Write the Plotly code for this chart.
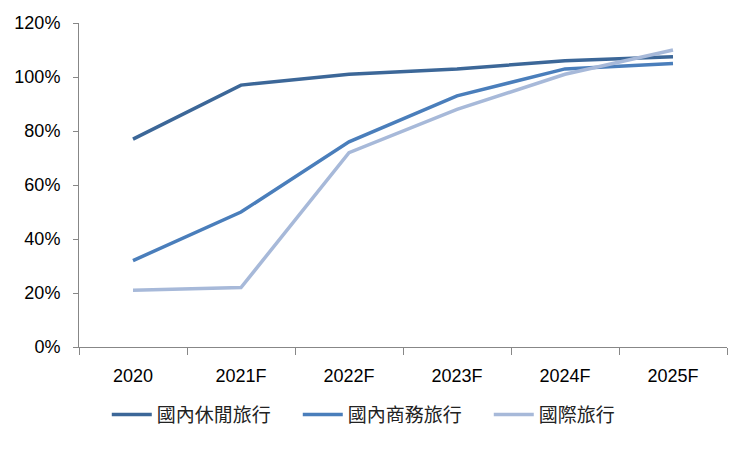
import plotly.graph_objects as go

categories = ["2020", "2021F", "2022F", "2023F", "2024F", "2025F"]
leisure = [0.77, 0.97, 1.01, 1.03, 1.06, 1.075]
business = [0.32, 0.50, 0.76, 0.93, 1.03, 1.05]
international = [0.21, 0.22, 0.72, 0.88, 1.01, 1.10]
series_names = ["國內休閒旅行", "國內商務旅行", "國際旅行"]
colors = ["#3C6798", "#4A7EBB", "#A7B9D9"]
y_ticks = [0, 0.2, 0.4, 0.6, 0.8, 1.0, 1.2]

fig = go.Figure()
for name, vals, c in zip(series_names, [leisure, business, international], colors):
    fig.add_trace(go.Scatter(x=categories, y=vals, name=name, mode="lines",
                             line=dict(color=c, width=3.5)))

fig.update_layout(
    width=750, height=449,
    margin=dict(l=71, r=31, t=15, b=110),
    paper_bgcolor="white", plot_bgcolor="white",
    font=dict(family="Liberation Sans, Arial", size=18, color="#000000"),
    legend=dict(orientation="h", x=0.485, xanchor="center", y=-0.15, yanchor="top",
                font=dict(family="Noto Sans CJK TC", size=19, color="#222222"),
                itemwidth=40, entrywidth=136, entrywidthmode="pixels", tracegroupgap=0),
    showlegend=True,
)
fig.update_xaxes(type="category", range=[-0.5, 5.5], showline=True, linecolor="#878787",
                 linewidth=1, ticks="outside", tickson="boundaries", ticklen=7,
                 tickcolor="#878787", showgrid=False, zeroline=False, automargin=False,
                 ticklabelstandoff=12)
fig.update_yaxes(range=[0, 1.2], tickvals=y_ticks, tickformat=".0%", showline=True,
                 linecolor="#878787", linewidth=1, ticks="outside", ticklen=5,
                 tickcolor="#878787", showgrid=False, zeroline=False, automargin=False,
                 ticklabelstandoff=9)

fig.write_html("out.html")
